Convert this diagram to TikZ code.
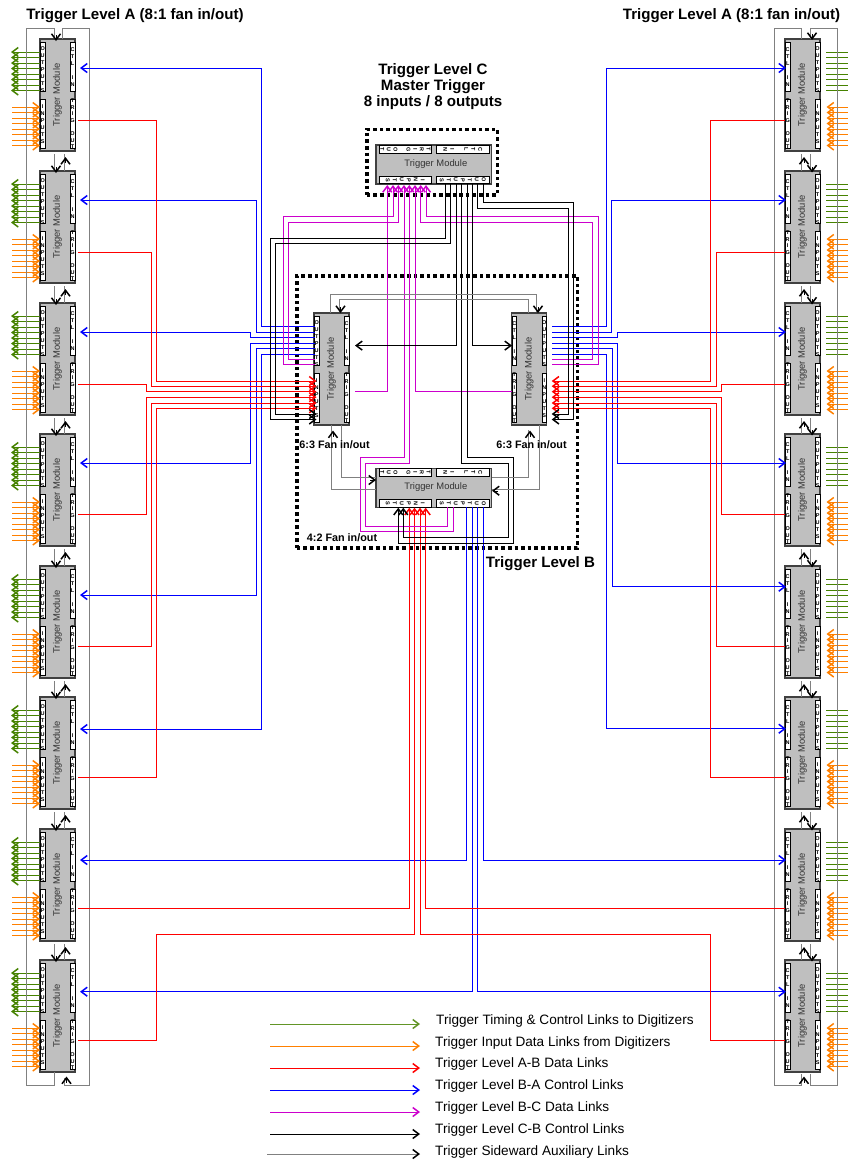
\documentclass[tikz,border=0pt]{standalone}
\usepackage{fontspec}
\setmainfont{Liberation Sans}
\usetikzlibrary{arrows.meta}
\definecolor{tgreen}{RGB}{70,130,0}
\definecolor{torange}{RGB}{255,128,0}
\definecolor{tmag}{RGB}{204,0,204}
\definecolor{tbody}{RGB}{191,191,191}
\definecolor{tgray}{RGB}{128,128,128}
\tikzset{
 bodybox/.style={draw=black!75,line width=1.2pt,fill=tbody,inner sep=0pt,text=black!80,font=\fontsize{9.4}{10}\selectfont},
 vbody/.style={bodybox,rotate=90,minimum width=112pt,minimum height=35pt,anchor=center},
 hbody/.style={bodybox,minimum width=115.7pt,minimum height=39pt},
 vwin/.style={draw=black,line width=0.9pt,fill=white,minimum width=4.7pt,minimum height=49.5pt,inner sep=0pt},
 hwin/.style={draw=black,line width=0.9pt,fill=white,minimum width=52.5pt,minimum height=7.5pt,inner sep=0pt},
 letters/.style={inner sep=0pt,align=center,text=black,font=\fontsize{5.5}{7}\selectfont\bfseries},
 letterstight/.style={inner sep=0pt,align=center,text=black,font=\fontsize{5.5}{6.6}\selectfont\bfseries},
 barb/.style={-{Straight Barb[length=6pt,width=9pt,line width=1.5pt]}},
 link/.style={line width=1pt,line join=miter},
 greenlink/.style={link,draw=tgreen,barb},
 greenplain/.style={link,draw=tgreen},
 orangelink/.style={link,draw=torange,barb},
 redlink/.style={link,draw=red,barb},
 redplain/.style={link,draw=red},
 bluelink/.style={link,draw=blue,barb},
 maglink/.style={link,draw=tmag,barb},
 magplain/.style={link,draw=tmag},
 blacklink/.style={link,draw=black,barb},
 sideline/.style={link,draw=tgray},
 sidearrow/.style={link,draw=tgray,-{Straight Barb[length=6pt,width=9pt,line width=1.5pt,color=black]}},
 sidehead/.style={line width=0.1pt,draw=black,-{Straight Barb[length=6pt,width=9pt,line width=1.5pt,color=black]}},
 dotbox/.style={draw=black,line width=3.6pt,dash pattern=on 3.6pt off 3pt,inner sep=0pt},
 title/.style={font=\fontsize{15.1}{16}\selectfont\bfseries,inner sep=0pt,align=center},
 fanlabel/.style={font=\fontsize{10.8}{12}\selectfont\bfseries,inner sep=0pt},
 legendtext/.style={font=\fontsize{13.6}{15}\selectfont,inner sep=0pt,anchor=west},
}
\newcommand{\txtOUT}{O\\U\\T\\P\\U\\T\\S}
\newcommand{\txtINP}{I\\N\\P\\U\\T\\S}
\newcommand{\txtCTL}{C\\T\\L\\~\\I\\N}
\newcommand{\txtTRG}{T\\R\\I\\G\\~\\O\\U\\T}
% #1 name, #2 x, #3 y : digitizer side (outputs, inputs) on the left
\newcommand{\vmodL}[3]{%
 \node[vbody] (#1) at (#2+17.5,#3+56) {\raisebox{-3.5pt}{Trigger Module}};
 \node[vwin] (#1wa) at (#2+2.7,#3+27.7) {};
 \node[vwin] (#1wb) at (#2+2.7,#3+84.7) {};
 \node[vwin] (#1wc) at (#2+32.6,#3+27.7) {};
 \node[vwin] (#1wd) at (#2+32.6,#3+84.7) {};
 \node[letters] (#1la) at (#2+2.7,#3+30.5) {\txtOUT};
 \node[letters] (#1lb) at (#2+2.7,#3+85) {\txtINP};
 \node[letters] (#1lc) at (#2+32.6,#3+27.7) {\txtCTL};
 \node[letterstight] (#1ld) at (#2+32.6,#3+84.7) {\txtTRG};
}
% control and trigger on the left, digitizer side on the right
\newcommand{\vmodR}[3]{%
 \node[vbody] (#1) at (#2+17.5,#3+56) {\raisebox{-3.5pt}{Trigger Module}};
 \node[vwin] (#1wa) at (#2+32.6,#3+27.7) {};
 \node[vwin] (#1wb) at (#2+32.6,#3+84.7) {};
 \node[vwin] (#1wc) at (#2+2.7,#3+27.7) {};
 \node[vwin] (#1wd) at (#2+2.7,#3+84.7) {};
 \node[letters] (#1la) at (#2+32.6,#3+30.5) {\txtOUT};
 \node[letters] (#1lb) at (#2+32.6,#3+85) {\txtINP};
 \node[letters] (#1lc) at (#2+2.7,#3+27.7) {\txtCTL};
 \node[letterstight] (#1ld) at (#2+2.7,#3+84.7) {\txtTRG};
}
\newcommand{\hmod}[3]{%
 \node[hbody] (#1) at (#2+57.85,#3+19.5) {\hspace{4pt}\raisebox{3pt}{Trigger Module}};
 \node[hwin] (#1wa) at (#2+29.3,#3+4.2) {};
 \node[hwin] (#1wb) at (#2+86.8,#3+4.2) {};
 \node[hwin] (#1wc) at (#2+29.3,#3+34.9) {};
 \node[hwin] (#1wd) at (#2+86.8,#3+34.9) {};
 \node[letterstight,rotate=-90] (#1la) at (#2+29.3,#3+4.2) {\txtTRG};
 \node[letters,rotate=-90] (#1lb) at (#2+86.8,#3+4.2) {\txtCTL};
 \node[letters,rotate=-90] (#1lc) at (#2+29.3,#3+34.9) {\txtINP};
 \node[letters,rotate=-90] (#1ld) at (#2+86.8,#3+34.9) {\txtOUT};
}
\begin{document}
\begin{tikzpicture}[x=1pt,y=-1pt]
\useasboundingbox (0,0) rectangle (848,1160);
% dotted boxes
\node[dotbox,minimum width=130.6pt,minimum height=65.4pt] (Cbox) at (432,162) {};
\node[dotbox,minimum width=280.6pt,minimum height=272pt] (Bbox) at (437,412) {};
% modules
\foreach \n/\y in {1/39,2/171,3/303,4/434,5/566,6/697,7/829,8/960}{
 \vmodL{LM\n}{40}{\y}
 \vmodR{RM\n}{785}{\y}
 \foreach \i in {0,...,7}{
  \coordinate (LM\n o\i) at (40,\y+13+5.5*\i);
  \coordinate (LM\n O\i) at (11,\y+13+5.5*\i);
  \draw[greenlink] (LM\n o\i) -- (LM\n O\i);
  \coordinate (LM\n p\i) at (12,\y+68+5.5*\i);
  \coordinate (LM\n P\i) at (40,\y+68+5.5*\i);
  \draw[orangelink] (LM\n p\i) -- (LM\n P\i);
  \coordinate (RM\n o\i) at (826,\y+13+5.5*\i);
  \coordinate (RM\n O\i) at (848,\y+13+5.5*\i);
  \draw[greenplain] (RM\n o\i) -- (RM\n O\i);
  \coordinate (RM\n p\i) at (848,\y+68+5.5*\i);
  \coordinate (RM\n P\i) at (826.5,\y+68+5.5*\i);
  \draw[orangelink] (RM\n p\i) -- (RM\n P\i);
 }
}
\vmodR{BR}{511.7}{313}
\vmodL{BL}{314}{313}
\hmod{MC}{376}{145}
\hmod{BB}{376}{468.3}
% rack frames and sideward links
\foreach \a/\b/\yb/\yt in {1/2/151/171,2/3/283/303,3/4/415/434,4/5/546/566,5/6/678/697,6/7/809/829,7/8/941/960}{
 \coordinate (La\a) at (54,\yb+3);  \coordinate (Lb\b) at (54,\yt);
 \coordinate (Lc\a) at (64,\yb+3);  \coordinate (Ld\b) at (64,\yt);
 \draw[sideline] (La\a) -- (Lb\b);
 \draw[sideline] (Lc\a) -- (Ld\b);
 \draw[sidehead] (56,\yt-4) -- (56,\yt+2);
 \draw[sidehead] (65.5,\yb+12) -- (65.5,\yb+6);
 \coordinate (Ra\a) at (801.7,\yb+3); \coordinate (Rb\b) at (801.7,\yt);
 \coordinate (Rc\a) at (810,\yb+3);   \coordinate (Rd\b) at (810,\yt);
 \draw[sideline] (Ra\a) -- (Rb\b);
 \draw[sideline] (Rc\a) -- (Rd\b);
 \draw[sidehead] (804,\yb+12) -- (804,\yb+6);
 \draw[sidehead] (812,\yt-4) -- (812,\yt+1.5);
}
\coordinate (LT1) at (26.7,28.3); \coordinate (LT2) at (26.7,1085.7);
\coordinate (LT3) at (89.3,28.3); \coordinate (LT4) at (89.3,1085.7);
\draw[sideline] (54,39) -- (54,28.3) -- (LT1) -- (LT2) -- (54,1085.7) -- (54,1072);
\draw[sideline] (62.3,39) -- (62.3,28.3) -- (LT3) -- (LT4) -- (64.3,1085.7) -- (64.3,1078);
\draw[sidehead] (56,35) -- (56,41);
\draw[sidehead] (66.5,1082.5) -- (66.5,1076.5);
\coordinate (RT1) at (774.5,28.3); \coordinate (RT2) at (774.5,1085.7);
\coordinate (RT3) at (837,28.3); \coordinate (RT4) at (837,1085.7);
\draw[sideline] (801.7,39) -- (801.7,28.3) -- (RT1) -- (RT2) -- (801.7,1085.7) -- (801.7,1074);
\draw[sideline] (810,39) -- (810,28.3) -- (RT3) -- (RT4) -- (810,1085.7) -- (810,1074);
\draw[sidehead] (812,34) -- (812,40);
\draw[sidehead] (804,1082.5) -- (804,1076.5);
% ports of level B and C
\foreach \i/\y in {1/326.7,2/332.2,3/337.7,4/343.2,5/348.7,6/354.2,7/359.2,8/364.7}{
 \coordinate (BLo\i) at (315,\y);
 \coordinate (BRo\i) at (552,\y);
}
\foreach \i/\y in {1/381,2/386.2,3/391.7,4/397.2,5/403,6/408.3,7/414,8/419.5}{
 \coordinate (BLi\i) at (316.5,\y);
 \coordinate (BRi\i) at (551.7,\y);
}
\coordinate (BLc) at (355,345.6); \coordinate (BRc) at (512,345.6);
\coordinate (BLt) at (355,391.7); \coordinate (BRt) at (511.7,391.7);
\foreach \i/\x in {1/387.3,2/393,3/398.3,4/404,5/409.3,6/415,7/420.7,8/426}{\coordinate (Ci\i) at (\x,185);}
\foreach \i/\x in {1/445,2/450.3,3/456,4/461.5,5/467,6/472.3,7/477.7,8/483.3}{\coordinate (Co\i) at (\x,184);}
\foreach \i/\x in {1/398.3,2/403.3,3/409.3,4/414.5,5/420,6/425.7}{\coordinate (Bi\i) at (\x,507.7);}
\foreach \i/\x in {1/447.7,2/453,3/466.7,4/472.3,5/477.7,6/483.3}{\coordinate (Bo\i) at (\x,507);}
% level A - level B control (blue) and data (red)
\coordinate (LC1) at (80,68); \coordinate (LC2) at (80,200); \coordinate (LC3) at (80,332); \coordinate (LC4) at (80,463);
\coordinate (LC5) at (80,595); \coordinate (LC6) at (80,729); \coordinate (LC7) at (80,860); \coordinate (LC8) at (80,991.7);
\coordinate (RC1) at (786,68); \coordinate (RC2) at (786,200); \coordinate (RC3) at (786,332); \coordinate (RC4) at (786,463);
\coordinate (RC5) at (786,586.7); \coordinate (RC6) at (786,728.7); \coordinate (RC7) at (786,860); \coordinate (RC8) at (786,991.7);
\coordinate (LR1) at (78,120.7); \coordinate (LR2) at (78,252); \coordinate (LR3) at (78,384); \coordinate (LR4) at (78,514.5);
\coordinate (LR5) at (78,646.7); \coordinate (LR6) at (78,777.7); \coordinate (LR7) at (78,908.5); \coordinate (LR8) at (78,1040.7);
\coordinate (RR1) at (785,120.7); \coordinate (RR2) at (785,252); \coordinate (RR3) at (785,384); \coordinate (RR4) at (785,514.5);
\coordinate (RR5) at (785,646.7); \coordinate (RR6) at (785,777.7); \coordinate (RR7) at (785,908.5); \coordinate (RR8) at (785,1040.7);

\draw[bluelink] (BLo1) -- (261.3,326.7) |- (LC1);
\draw[bluelink] (BLo2) -- (256,332.2) |- (LC2);
\draw[bluelink] (BLo3) -- (250.5,337.7) |- (LC3);
\draw[bluelink] (BLo4) -- (250.5,343.2) |- (LC4);
\draw[bluelink] (BLo5) -- (256,348.7) |- (LC5);
\draw[bluelink] (BLo6) -- (261.3,354.2) |- (LC6);
\draw[bluelink] (BRo1) -- (606.7,326.7) |- (RC1);
\draw[bluelink] (BRo2) -- (611.7,332.2) |- (RC2);
\draw[bluelink] (BRo3) -- (617.7,337.7) |- (RC3);
\draw[bluelink] (BRo4) -- (617.7,343.2) |- (RC4);
\draw[bluelink] (BRo5) -- (612,348.7) |- (RC5);
\draw[bluelink] (BRo6) -- (606.7,354.2) |- (RC6);
\draw[bluelink] (Bo3) |- (LC7);
\draw[bluelink] (Bo4) |- (LC8);
\draw[bluelink] (Bo5) |- (RC8);
\draw[bluelink] (Bo6) |- (RC7);

\draw[redlink] (LR1) -- (156.7,120.7) |- (BLi1);
\draw[redlink] (LR2) -- (151.7,252) |- (BLi2);
\draw[redlink] (LR3) -- (146,384) |- (BLi3);
\draw[redlink] (LR4) -- (146,514.5) |- (BLi4);
\draw[redlink] (LR5) -- (151.7,646.7) |- (BLi5);
\draw[redlink] (LR6) -- (156.7,777.7) |- (BLi6);
\draw[redlink] (RR1) -- (710.7,120.7) |- (BRi1);
\draw[redlink] (RR2) -- (716,252) |- (BRi2);
\draw[redlink] (RR3) -- (721.7,384) |- (BRi3);
\draw[redlink] (RR4) -- (721.7,514.5) |- (BRi4);
\draw[redlink] (RR5) -- (716,646.7) |- (BRi5);
\draw[redlink] (RR6) -- (710.7,777.7) |- (BRi6);
\draw[redlink] (LR7) -| (Bi3);
\draw[redlink] (LR8) -- (156.7,1040.7) |- (414.5,934.3) -- (Bi4);
\draw[redlink] (RR8) -- (710.7,1040.7) |- (420,934.3) -- (Bi5);
\draw[redlink] (RR7) -| (Bi6);
% level B - level C data (magenta)
\draw[maglink] (BLt) -| (Ci1);
\draw[maglink] (BLo8) -- (283.3,364.7) |- (393,216.7) -- (Ci2);
\draw[maglink] (BLo7) -- (288.3,359.2) |- (398.3,222) -- (Ci3);
\draw[maglink] (Bo2) -- (453,531) -- (360,531) -- (360,457.7) -- (404,457.7) -- (Ci4);
\draw[maglink] (Bo1) -- (447.7,526) -- (365.7,526) -- (365.7,463.3) -- (409.3,463.3) -- (Ci5);
\draw[maglink] (BRt) -| (Ci6);
\draw[maglink] (BRo7) -- (592.7,359.2) |- (420.7,222) -- (Ci7);
\draw[maglink] (BRo8) -- (598,364.7) |- (426,216.7) -- (Ci8);
% level C - level B control (black)
\draw[blacklink] (Co1) |- (270,238.3) |- (BLi8);
\draw[blacklink] (Co2) |- (275,243.7) |- (BLi7);
\draw[blacklink] (Co3) |- (BLc);
\draw[blacklink] (Co4) -- (461.5,463.3) -- (508,463.3) -- (508,537.7) -- (403.3,537.7) -- (Bi2);
\draw[blacklink] (Co5) -- (467,457.7) -- (513.3,457.7) -- (513.3,543) -- (398.3,543) -- (Bi1);
\draw[blacklink] (Co6) |- (BRc);
\draw[blacklink] (Co7) |- (568.3,208) |- (BRi7);
\draw[blacklink] (Co8) |- (573.7,202.7) |- (BRi8);
% sideward links inside level B
\draw[sideline] (330.7,313) -- (330.7,294) -- (536,294) -- (536,312);
\draw[sideline] (339,312) -- (339,299.3) -- (528.3,299.3) -- (528.3,313);
\draw[sidehead] (340.5,307) -- (340.5,313);
\draw[sidehead] (538,307) -- (538,313);
\draw[sideline] (331,425) -- (331,489) -- (376,489);
\draw[sideline] (341,425) -- (341,477.7) -- (376,477.7);
\draw[sidehead] (333,436.5) -- (333,430.5);
\draw[sidehead] (370,480) -- (376,480);
\draw[sideline] (528.3,430) -- (528.3,477.7) -- (491.7,477.7);
\draw[sideline] (539,425) -- (539,489) -- (492,489);
\draw[sidehead] (530,436.5) -- (530,430.5);
\draw[sidehead] (498,490.7) -- (492,490.7);
% titles
\node[title] (t1) at (135,16) {Trigger Level A (8:1 fan in/out)};
\node[title] (t2) at (731.5,16) {Trigger Level A (8:1 fan in/out)};
\node[title] (t3) at (433,87) {Trigger Level C\\Master Trigger\\8 inputs / 8 outputs};
\node[title] (t4) at (540.5,564) {Trigger Level B};
\node[fanlabel] (f1) at (334.5,444.5) {6:3 Fan in/out};
\node[fanlabel] (f2) at (531.5,444.5) {6:3 Fan in/out};
\node[fanlabel] (f3) at (342,537.5) {4:2 Fan in/out};
% legend
\foreach \i/\y/\ty/\x/\t in {
 1/1024/1021/436/Trigger Timing \& Control Links to Digitizers,
 2/1046/1043/435/Trigger Input Data Links from Digitizers,
 3/1068/1064/435/Trigger Level A-B Data Links,
 4/1090/1086/435/Trigger Level B-A Control Links,
 5/1112/1108/435/Trigger Level B-C Data Links,
 6/1134/1130/435/Trigger Level C-B Control Links}{
 \coordinate (ls\i) at (270,\y);
 \coordinate (le\i) at (420,\y);
 \node[legendtext] (lt\i) at (\x,\ty) {\t};
}
\coordinate (ls7) at (267,1154); \coordinate (le7) at (420,1154);
\node[legendtext] (lt7) at (435,1152) {Trigger Sideward Auxiliary Links};
\draw[greenlink,draw=tgreen!85!white] (ls1) -- (le1);
\draw[orangelink] (ls2) -- (le2);
\draw[redlink] (ls3) -- (le3);
\draw[bluelink] (ls4) -- (le4);
\draw[maglink] (ls5) -- (le5);
\draw[blacklink] (ls6) -- (le6);
\draw[sidearrow] (ls7) -- (le7);
\end{tikzpicture}
\end{document}
